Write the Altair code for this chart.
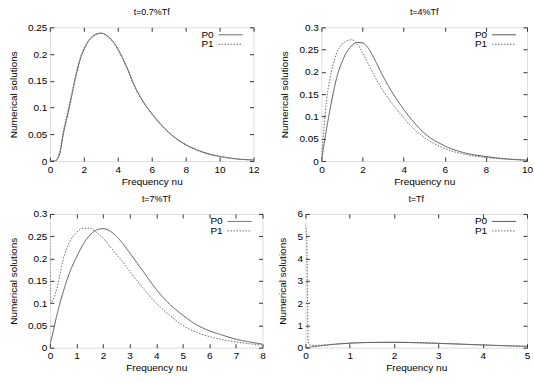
import altair as alt
import pandas as pd

FONT = "Liberation Sans"
SERIES = ["P0", "P1"]
COLORS = ["#555555", "#6a6a6a"]
DASHES = [[1, 0], [1.5, 1.5]]

# t=0.7%Tf
nu_a = [0, 0.3, 0.45, 0.6, 0.8, 1.0, 1.25, 1.5, 1.75, 2.0, 2.25, 2.5, 2.75, 3.0,
        3.25, 3.5, 3.75, 4.0, 4.5, 5.0, 5.5, 6.0, 6.5, 7.0, 7.5, 8.0, 9.0, 10.0, 11.0, 12.0]
p0_a = [0, 0, 0.004, 0.016, 0.052, 0.080, 0.116, 0.154, 0.186, 0.208, 0.223, 0.232, 0.237, 0.239,
        0.237, 0.231, 0.222, 0.210, 0.178, 0.140, 0.111, 0.089, 0.070, 0.054, 0.041, 0.031,
        0.017, 0.009, 0.004, 0.002]
p1_a = [0, 0, 0.006, 0.020, 0.057, 0.085, 0.121, 0.158, 0.189, 0.210, 0.224, 0.233, 0.238, 0.239,
        0.236, 0.230, 0.221, 0.208, 0.176, 0.138, 0.110, 0.088, 0.069, 0.053, 0.040, 0.030,
        0.016, 0.008, 0.004, 0.002]

# t=4%Tf
nu_b = [0, 0.25, 0.5, 0.75, 1.0, 1.25, 1.5, 1.75, 2.0, 2.25, 2.5, 2.75, 3.0, 3.5,
        4.0, 4.5, 5.0, 6.0, 7.0, 8.0, 9.0, 10.0]
p0_b = [0, 0.072, 0.135, 0.188, 0.222, 0.246, 0.260, 0.266, 0.265, 0.255, 0.236, 0.213, 0.190, 0.150,
        0.116, 0.087, 0.063, 0.034, 0.018, 0.010, 0.005, 0.002]
p1_b = [0, 0.135, 0.203, 0.243, 0.262, 0.270, 0.272, 0.262, 0.243, 0.221, 0.198, 0.177, 0.158, 0.125,
        0.097, 0.072, 0.053, 0.028, 0.015, 0.008, 0.004, 0.002]

# t=7%Tf
nu_c = [0, 0.02, 0.1, 0.25, 0.5, 0.75, 1.0, 1.25, 1.5, 1.75, 2.0, 2.25, 2.5, 2.75, 3.0,
        3.5, 4.0, 4.5, 5.0, 5.5, 6.0, 6.5, 7.0, 7.5, 8.0]
p0_c = [0.007, 0.012, 0.030, 0.070, 0.125, 0.170, 0.203, 0.232, 0.252, 0.264, 0.267, 0.262, 0.250, 0.233, 0.213,
        0.172, 0.131, 0.098, 0.073, 0.052, 0.038, 0.028, 0.019, 0.013, 0.008]
p1_c = [0.250, 0.100, 0.105, 0.130, 0.198, 0.238, 0.258, 0.268, 0.268, 0.259, 0.246, 0.228, 0.210, 0.192, 0.172,
        0.134, 0.100, 0.073, 0.050, 0.035, 0.025, 0.018, 0.013, 0.009, 0.006]

# t=Tf
nu_d = [0, 0.03, 0.06, 0.1, 0.2, 0.4, 0.7, 1.0, 1.5, 2.0, 2.5, 3.0, 3.5, 4.0, 4.5, 5.0]
p0_d = [0, 0.008, 0.015, 0.025, 0.05, 0.10, 0.16, 0.20, 0.235, 0.24, 0.225, 0.195, 0.16, 0.125, 0.09, 0.06]
p1_d = [5.5, 5.0, 0.3, 0.13, 0.10, 0.12, 0.17, 0.21, 0.24, 0.245, 0.225, 0.195, 0.16, 0.12, 0.085, 0.06]

FRAME = "#333333"


def tick_axis(orient, values, title=None, labels=True, title_pad=0):
    opts = dict(
        orient=orient, values=values, format="~r", offset=-4, tickSize=4,
        tickColor=FRAME, tickWidth=1, domain=False, grid=False,
        labels=labels, labelFont=FONT, labelFontSize=10, labelColor="#000000",
        labelPadding=3, labelFlush=False, labelOverlap=False,
    )
    if title:
        opts.update(title=title, titleFont=FONT, titleFontSize=10,
                    titleFontWeight="normal", titleColor="#000000", titlePadding=title_pad)
    else:
        opts.update(title=None)
    return alt.Axis(**opts)


def key_layers(w):
    # gnuplot-style key in the top-right corner: name, then a line sample
    layers = []
    for i, (name, color, dash) in enumerate(zip(SERIES, COLORS, DASHES)):
        row_y = 7.5 + 9.5 * i
        src = alt.Chart(pd.DataFrame({"series": [name]}))
        layers.append(src.mark_text(align="right", baseline="middle", font=FONT,
                                    fontSize=10, color="#000000").encode(
            x=alt.value(w - 40), y=alt.value(row_y), text="series:N"))
        layers.append(src.mark_rule(color=color, strokeWidth=1, strokeDash=dash).encode(
            x=alt.value(w - 35), x2=alt.value(w - 11), y=alt.value(row_y)))
    return layers


def panel(title, nu, p0, p1, xmax, xstep, ymax, ystep, w, h):
    n = len(nu)
    df = pd.DataFrame({
        "nu": list(nu) * 2,
        "value": list(p0) + list(p1),
        "series": ["P0"] * n + ["P1"] * n,
    })
    xt = [round(i * xstep, 6) for i in range(int(round(xmax / xstep)) + 1)]
    yt = [round(i * ystep, 6) for i in range(int(round(ymax / ystep)) + 1)]
    xs = alt.Scale(domain=[0, xmax], nice=False, zero=False)
    ys = alt.Scale(domain=[0, ymax], nice=False, zero=False)

    base = alt.Chart(df)
    lines = base.mark_line(strokeWidth=1, interpolate="monotone", clip=True).encode(
        x=alt.X("nu:Q", scale=xs, axis=tick_axis("bottom", xt, "Frequency nu", title_pad=2)),
        y=alt.Y("value:Q", scale=ys, axis=tick_axis("left", yt, "Numerical solutions", title_pad=9)),
        color=alt.Color("series:N", scale=alt.Scale(domain=SERIES, range=COLORS), legend=None),
        strokeDash=alt.StrokeDash("series:N", scale=alt.Scale(domain=SERIES, range=DASHES), legend=None),
    )
    # mirrored ticks on the top and right edges of the frame
    mirror = base.mark_line(opacity=0).encode(
        x=alt.X("nu:Q", scale=xs, axis=tick_axis("top", xt, labels=False)),
        y=alt.Y("value:Q", scale=ys, axis=tick_axis("right", yt, labels=False)),
    )
    return alt.layer(lines, mirror, *key_layers(w)).resolve_axis(
        x="independent", y="independent").properties(
        width=w, height=h,
        title=alt.TitleParams(title, font=FONT, fontSize=9, fontWeight="normal",
                              color="#000000", offset=5, anchor="middle"),
    )


pa = panel("t=0.7%Tf", nu_a, p0_a, p1_a, 12, 2, 0.25, 0.05, 204, 134)
pb = panel("t=4%Tf", nu_b, p0_b, p1_b, 10, 2, 0.3, 0.05, 206, 134)
pc = panel("t=7%Tf", nu_c, p0_c, p1_c, 8, 1, 0.3, 0.05, 213, 134)
pd_ = panel("t=Tf", nu_d, p0_d, p1_d, 5, 1, 6, 1, 222, 134)

row1 = alt.HConcatChart(hconcat=[pa, pb], spacing=19).resolve_scale(
    color="independent", strokeDash="independent")
row2 = alt.HConcatChart(hconcat=[pc, pd_], spacing=10).resolve_scale(
    color="independent", strokeDash="independent")

chart = alt.VConcatChart(vconcat=[row1, row2], spacing=7).resolve_scale(
    color="independent", strokeDash="independent").properties(
    padding={"left": 8, "top": 7, "right": 0, "bottom": 0}
).configure_view(stroke=FRAME, strokeWidth=1).configure(background="white")

chart.save("out.html", embed_options={"renderer": "svg", "actions": False})
